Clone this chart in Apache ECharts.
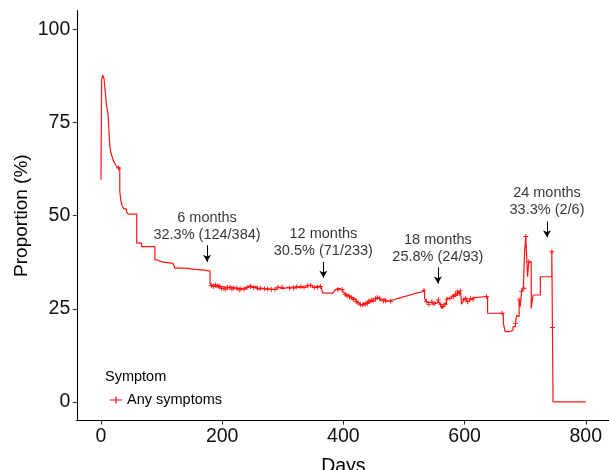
<!DOCTYPE html>
<html><head><meta charset="utf-8">
<script src="https://cdn.jsdelivr.net/npm/echarts@6/dist/echarts.min.js"></script>
<style>html,body{margin:0;padding:0;background:#fff}#c{width:609px;height:470px}</style>
</head><body><div id="c"></div>
<script>
const curveDays = [0,1,3,5,6,7,8,9,10,11,12,13,14,15,16,18,20,23,26,28,29,31,33,35,38,42,45,59,67,89,93,100,119,122,140,155,171,
  180,182,184,186,188,190,192,194,196,198,200,202,204,206,208,210,213,215,218,221,224,227,230,233,236,239,242,245,247,250,253,256,259,262,265,268,271,274,277,280,283,286,289,292,295,298,301,304,308,312,316,320,324,328,332,336,339,342,345,348,351,354,357,360,363,
  366,383,386,389,391,393,395,397,399,401,403,405,407,409,411,413,415,417,419,421,423,425,427,429,431,433,435,437,439,441,443,445,447,449,451,453,455,457,459,461,463,465,467,469,471,474,477,480,485,490,495,501,508,514,520,529,
  534,536,538,540,542,544,546,548,550,552,554,556,558,560,562,564,566,568,570,572,574,576,578,580,582,584,586,588,590,592,594,595,597,599,601,603,605,607,609,611,613,615,617,
  638,664,667,675,680,684,686,688,690,692,694,697,699,701,704,706,710,713,725,744,745,746,800];
const curveValues = [59.6,86.5,87.7,86.8,85.0,83.2,81.5,80.0,78.8,78.0,76.5,73.0,70.0,68.1,67.0,66.0,64.9,64.0,63.1,63.4,62.8,56.5,53.8,52.6,51.8,51.0,50.4,42.6,41.7,38.1,37.6,37.2,36.8,35.9,35.6,35.4,35.1,
  31.8,31.2,31.6,31.0,31.4,30.8,31.2,30.6,31.0,30.5,30.9,30.4,30.8,30.3,30.7,30.4,30.8,30.3,30.6,30.2,30.5,30.1,30.4,30.6,30.3,30.7,30.9,31.3,31.0,30.7,31.0,30.5,30.2,30.5,30.1,30.4,29.9,30.3,30.6,30.2,30.6,30.2,30.5,30.8,30.5,30.8,30.5,30.8,30.6,30.9,30.6,30.9,30.7,31.0,30.7,31.0,31.2,30.9,31.3,31.0,30.7,31.0,30.8,31.0,30.7,
  29.2,29.4,30.0,30.5,30.1,30.4,29.9,30.1,29.5,29.2,28.9,28.5,28.8,28.2,28.5,27.9,28.1,27.5,27.7,27.0,26.6,26.9,26.1,26.4,26.0,26.6,26.2,26.8,26.5,27.1,26.7,27.3,26.9,27.4,27.1,27.7,28.0,27.5,27.8,27.2,27.5,27.1,27.6,27.2,27.0,27.2,27.0,27.5,27.8,28.0,28.3,28.6,28.9,29.2,29.5,30.0,
  27.8,27.0,26.6,26.2,26.7,26.3,26.8,26.0,26.5,26.9,26.6,27.4,26.8,26.2,25.1,25.6,26.5,26.2,27.6,27.9,28.3,27.8,28.2,28.7,28.3,28.9,28.5,29.6,29.1,29.8,28.5,26.2,26.8,27.5,27.8,27.2,26.9,27.4,27.8,27.4,27.6,28.0,28.3,
  23.8,21.1,18.9,19.3,20.2,21.1,23.3,22.9,27.4,25.6,29.6,30.5,39.9,44.4,33.6,37.6,25.1,28.7,33.6,40.3,20.0,0,0];
const censorDays = [29,182,186,189,193,196,199,203,206,209,213,216,219,224,228,231,236,241,247,252,258,263,270,275,281,287,292,299,311,318,323,330,335,341,346,352,357,362,
  391,398,403,406,410,414,417,421,424,428,432,436,440,442,446,449,453,456,460,466,470,478,533,537,541,546,551,557,561,564,568,571,576,582,585,588,591,593,599,602,605,610,614,636,662,684,690,694,698,701,706,744,745];
const xTicks = [0,200,400,600,800];
const yTicks = [0,25,50,75,100];
const annDays = [175,367,556,736];
const annLabels = ['6 months\n32.3% (124/384)','12 months\n30.5% (71/233)','18 months\n25.8% (24/93)','24 months\n33.3% (2/6)'];
const annTextY = [47.1,42.9,41.3,53.7];
const annArrowFrom = [42.1,37.6,36.1,48.4];
const annArrowTo = [37.6,33.3,31.8,44.2];

const RED = '#ff1414';
const FONT = 'Liberation Sans, Arial, sans-serif';
const curve = curveDays.map((d,i)=>[d,curveValues[i]]);
function stepAt(d){let v=curveValues[0];for(let i=0;i<curveDays.length;i++){if(curveDays[i]<=d)v=curveValues[i];else break;}return v;}
const censor = censorDays.map(d=>[d,stepAt(d)]);
const plusPath = 'path://M0,4.1H10V5.9H0ZM4.1,0H5.9V10H4.1Z';
const legendIcon = 'path://M0,4.4H12V5.6H0ZM5.4,1.5H6.6V8.5H5.4Z';

const chart = echarts.init(document.getElementById('c'),null,{renderer:'canvas'});
chart.setOption({
  animation:false,
  backgroundColor:'#fff',
  grid:{left:76.75,right:-1,top:10.67,bottom:49.4,containLabel:false,outerBoundsMode:'none'},
  xAxis:{type:'value',min:-40,max:840,
    name:'Days',nameLocation:'middle',nameGap:36,nameMoveOverlap:false,
    nameTextStyle:{fontFamily:FONT,fontSize:19.5,color:'#000'},
    axisLine:{show:true,onZero:false,lineStyle:{color:'#000',width:1.1}},
    axisTick:{show:true,length:4,customValues:xTicks,lineStyle:{color:'#333',width:1.1}},
    axisLabel:{customValues:xTicks,margin:6,fontFamily:FONT,fontSize:19.5,color:'#111'},
    splitLine:{show:false}},
  yAxis:{type:'value',min:-5,max:105,
    name:'Proportion (%)',nameLocation:'middle',nameGap:45,nameRotate:90,nameMoveOverlap:false,
    nameTextStyle:{fontFamily:FONT,fontSize:19,color:'#000'},
    axisLine:{show:true,onZero:false,lineStyle:{color:'#000',width:1.1}},
    axisTick:{show:true,length:4,customValues:yTicks,lineStyle:{color:'#333',width:1.1}},
    axisLabel:{customValues:yTicks,margin:6.5,fontFamily:FONT,fontSize:19.5,color:'#111'},
    splitLine:{show:false}},
  legend:{show:true,left:105,top:387,orient:'vertical',itemWidth:12,itemHeight:10,itemGap:5,
    data:[{name:'Any symptoms',icon:legendIcon,itemStyle:{color:RED}}],
    textStyle:{fontFamily:FONT,fontSize:14.5,color:'#000',lineHeight:16}},
  graphic:[{type:'text',left:105,top:369,style:{text:'Symptom',font:'14.5px Liberation Sans, Arial, sans-serif',fill:'#000'}}],
  series:[
    {name:'Any symptoms',type:'line',step:'end',data:curve,showSymbol:false,symbol:'none',
     lineStyle:{color:RED,width:1.2},itemStyle:{color:RED},z:3},
    {name:'censor',type:'scatter',data:censor,symbol:plusPath,symbolSize:5,
     itemStyle:{color:RED,opacity:1},z:4,silent:true},
    {name:'annot',type:'scatter',symbolSize:0,silent:true,z:5,
     data:annDays.map((d,i)=>({value:[d,annTextY[i]],label:{formatter:annLabels[i]}})),
     label:{show:true,position:'inside',fontFamily:FONT,fontSize:14.5,lineHeight:17,color:'#000',align:'center',verticalAlign:'middle'},
     markLine:{silent:true,symbol:['none','arrow'],symbolSize:[6,7],animation:false,
       lineStyle:{color:'#000',width:1,type:'solid'},label:{show:false},emphasis:{disabled:true},
       data:annDays.map((d,i)=>[{coord:[d,annArrowFrom[i]]},{coord:[d,annArrowTo[i]]}])}}
  ]
});
</script></body></html>
